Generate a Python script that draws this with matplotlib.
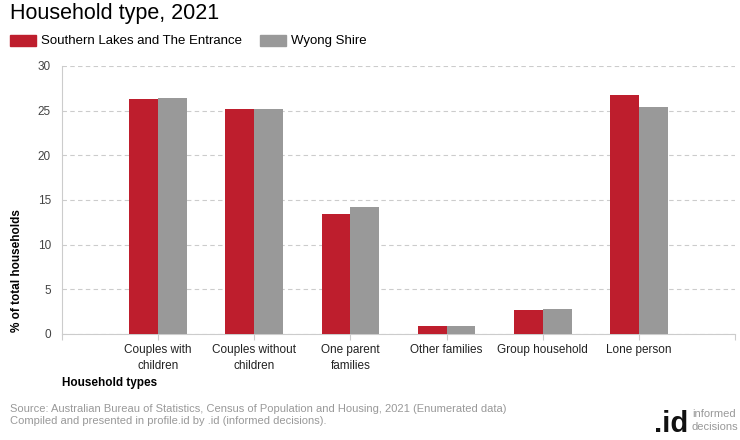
import matplotlib.pyplot as plt
import numpy as np

plt.rcParams['font.family'] = ['Liberation Sans', 'DejaVu Sans']

# data
categories = ['Couples with\nchildren', 'Couples without\nchildren', 'One parent\nfamilies',
              'Other families', 'Group household', 'Lone person']
southern_lakes = [26.3, 25.2, 13.4, 0.9, 2.7, 26.8]
wyong_shire = [26.4, 25.2, 14.2, 0.9, 2.8, 25.4]
series_names = ['Southern Lakes and The Entrance', 'Wyong Shire']
yticks = [0, 5, 10, 15, 20, 25, 30]

red = '#BE1E2D'
grey = '#999999'

fig = plt.figure(figsize=(7.4, 4.4), dpi=100)
ax = fig.add_axes([62 / 740, 1 - 334 / 440, (735 - 62) / 740, (334 - 66) / 440])

x = np.arange(len(categories))
w = 0.3
ax.bar(x - w / 2, southern_lakes, width=w, color=red, zorder=3)
ax.bar(x + w / 2, wyong_shire, width=w, color=grey, zorder=3)

ax.set_xlim(-1, 6)
ax.set_ylim(0, 30)
ax.set_yticks(yticks)
ax.yaxis.grid(True, color='#cccccc', linestyle=(0, (4, 3)), linewidth=0.8, zorder=0)

ax.set_xticks(list(x) + [-1, 6])
ax.set_xticklabels(categories + ['', ''], fontsize=8.5, color='#222222', linespacing=1.45)
ax.tick_params(axis='x', length=4, color='#cccccc', pad=3)
ax.tick_params(axis='y', length=0, labelsize=8.5, colors='#444444', pad=8)

for s in ['top', 'right']:
    ax.spines[s].set_visible(False)
ax.spines['left'].set_color('#cccccc')
ax.spines['bottom'].set_color('#cccccc')

# titles and labels
fig.text(10 / 740, 1 - 14 / 440, 'Household type, 2021', fontsize=15.5, va='center', ha='left', color='#000000')

fig.patches.append(plt.Rectangle((10 / 740, 1 - 46 / 440), 26 / 740, 11 / 440,
                                 transform=fig.transFigure, color=red))
fig.text(41 / 740, 1 - 41 / 440, series_names[0], fontsize=9.5, va='center', ha='left')
fig.patches.append(plt.Rectangle((260 / 740, 1 - 46 / 440), 26 / 740, 11 / 440,
                                 transform=fig.transFigure, color=grey))
fig.text(291 / 740, 1 - 41 / 440, series_names[1], fontsize=9.5, va='center', ha='left')

fig.text(17 / 740, 1 - 332 / 440, '% of total households', fontsize=8.5, fontweight='bold',
         rotation=90, ha='center', va='bottom')
fig.text(62 / 740, 1 - 383 / 440, 'Household types', fontsize=8.5, fontweight='bold',
         ha='left', va='center')

fig.text(10 / 740, 1 - 409 / 440,
         'Source: Australian Bureau of Statistics, Census of Population and Housing, 2021 (Enumerated data)',
         fontsize=8, color='#999999', ha='left', va='center')
fig.text(10 / 740, 1 - 421 / 440,
         'Compiled and presented in profile.id by .id (informed decisions).',
         fontsize=8, color='#999999', ha='left', va='center')

# logo
fig.text(688 / 740, 1 - 432 / 440, '.id', fontsize=21, fontweight='bold', color='#111111',
         ha='right', va='baseline')
fig.text(692 / 740, 1 - 414 / 440, 'informed', fontsize=8, color='#999999', ha='left', va='center')
fig.text(692 / 740, 1 - 427 / 440, 'decisions', fontsize=8, color='#999999', ha='left', va='center')

fig.savefig('out.png', dpi=100)
